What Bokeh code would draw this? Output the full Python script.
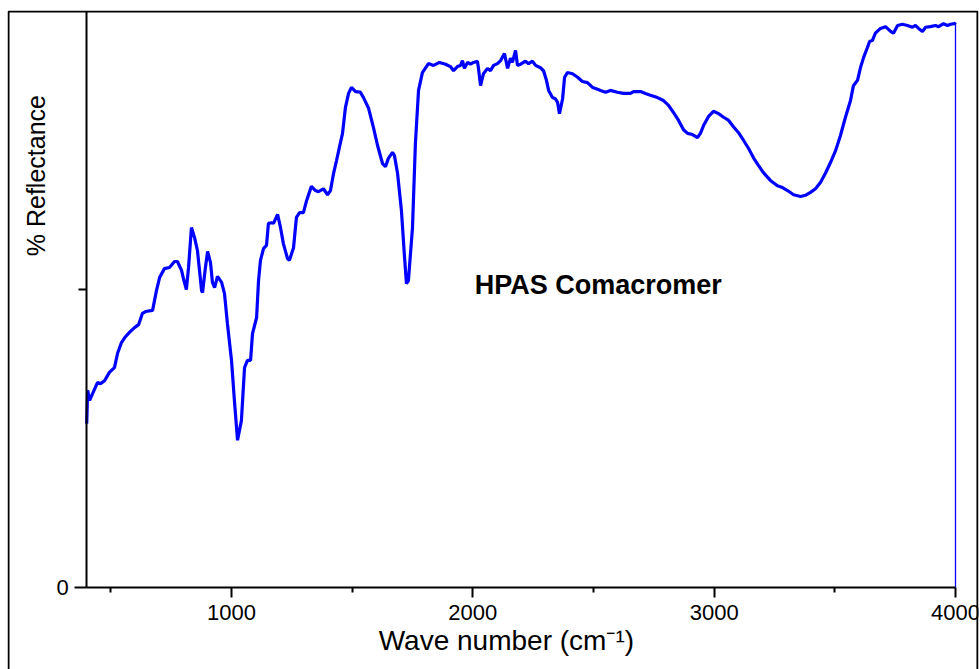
import math
from bokeh.plotting import figure
from bokeh.models import Range1d, FixedTicker, Label, BoxAnnotation, LinearAxis
from bokeh.embed import file_html
from bokeh.resources import INLINE

# ---- data ----
wavenumber = [
    400, 404, 412, 445, 457, 474, 494, 515, 528, 544, 557, 577, 598, 615, 631, 644,
    673, 689, 702, 722, 743, 764, 776, 793, 801, 813, 822, 834, 847, 859, 876, 880,
    892, 901, 913, 921, 930, 942, 959, 971, 983, 1000, 1012, 1025, 1041, 1054, 1066,
    1079, 1087, 1104, 1112, 1120, 1133, 1145, 1153, 1166, 1174, 1191, 1203, 1215,
    1232, 1240, 1257, 1269, 1282, 1298, 1311, 1331, 1348, 1360, 1381, 1398, 1410,
    1423, 1435, 1448, 1460, 1472, 1485, 1497, 1514, 1534, 1547, 1568, 1588, 1605,
    1626, 1638, 1650, 1667, 1675, 1688, 1704, 1717, 1725, 1733, 1750, 1762, 1775,
    1791, 1816, 1837, 1862, 1887, 1907, 1920, 1936, 1949, 1957, 1965, 1978, 1990,
    2003, 2019, 2023, 2032, 2044, 2061, 2073, 2086, 2102, 2115, 2131, 2144, 2156,
    2164, 2177, 2185, 2198, 2218, 2231, 2247, 2260, 2280, 2293, 2305, 2314, 2330,
    2342, 2351, 2359, 2372, 2380, 2392, 2413, 2434, 2454, 2475, 2496, 2517, 2529,
    2550, 2570, 2599, 2624, 2653, 2666, 2695, 2715, 2736, 2765, 2790, 2811, 2831,
    2852, 2873, 2890, 2910, 2931, 2943, 2956, 2976, 2997, 3018, 3039, 3059, 3080,
    3101, 3122, 3142, 3163, 3184, 3204, 3233, 3262, 3283, 3304, 3329, 3358, 3378,
    3399, 3420, 3441, 3461, 3482, 3503, 3523, 3544, 3565, 3577, 3594, 3606, 3619,
    3635, 3644, 3656, 3668, 3689, 3710, 3731, 3743, 3760, 3780, 3801, 3822, 3834,
    3847, 3863, 3876, 3896, 3917, 3930, 3950, 3967, 3979, 3996, 4000,
]
reflectance = [
    27.5, 33.1, 31.4, 34.4, 34.2, 34.7, 36.1, 36.9, 39.3, 41.1, 41.9, 42.8, 43.6, 44.1, 46.0, 46.3,
    46.5, 49.8, 52.0, 53.5, 53.7, 54.7, 54.7, 53.2, 51.8, 50.0, 53.7, 60.4, 58.7, 56.5, 49.8, 49.5,
    53.7, 56.4, 54.5, 51.2, 50.3, 52.2, 51.2, 49.3, 44.3, 38.1, 31.4, 24.7, 28.0, 36.9, 38.1,
    38.1, 42.6, 45.3, 51.5, 54.9, 56.9, 57.4, 61.1, 61.2, 61.1, 62.6, 60.4, 57.7,
    55.2, 54.9, 57.0, 62.1, 62.9, 62.9, 64.9, 67.3, 66.6, 66.4, 66.9, 65.9, 66.6,
    69.5, 71.6, 74.0, 76.2, 80.5, 82.9, 83.9, 83.2, 83.1, 82.2, 80.4, 77.2, 74.2,
    71.1, 70.6, 72.0, 73.0, 72.5, 69.5, 63.3, 55.4, 51.0, 51.5, 60.4, 74.5, 83.4,
    86.4, 87.9, 87.6, 88.1, 87.8, 87.4, 86.7, 87.4, 87.6, 88.4, 87.1, 88.1, 87.8,
    88.1, 88.3, 87.2, 84.2, 86.2, 87.1, 86.7, 87.6, 87.9, 88.4, 89.6, 87.1, 88.8,
    88.1, 90.1, 87.6, 87.8, 88.3, 87.9, 88.3, 87.6, 87.2, 86.7, 85.1, 83.4, 82.2,
    82.0, 81.4, 79.5, 82.0, 85.6, 86.4, 86.2, 85.6, 84.9, 84.7, 83.9, 83.6, 83.4,
    83.1, 83.4, 83.1, 82.9, 82.9, 83.2, 83.2, 82.9, 82.6, 82.2, 81.7, 80.9, 79.7,
    78.4, 76.8, 76.2, 76.0, 75.5, 76.2, 77.5, 79.0, 79.9, 79.5, 78.9, 78.4, 77.3,
    76.3, 75.0, 73.7, 72.1, 70.8, 69.6, 68.3, 67.4, 67.1, 66.6, 65.9, 65.6, 65.8,
    66.3, 66.9, 68.0, 69.5, 71.3, 73.3, 75.8, 78.9, 81.7, 84.2, 85.1, 87.2, 88.9,
    90.6, 91.6, 91.8, 93.0, 93.8, 94.1, 93.3, 93.0, 94.3, 94.5, 94.3, 94.0, 94.3,
    93.8, 93.3, 94.0, 94.1, 94.3, 94.1, 94.6, 94.3, 94.5, 94.6, 94.8,
]
reflectance_end = 0.0  # spectrum drops to zero at its last point

x_bounds = (400, 4000)
y_bounds = (0, 96.64)
x_major_ticks = [1000, 2000, 3000, 4000]
x_minor_ticks = [500, 1500, 2500, 3500]
y_major_ticks = [0]
y_minor_ticks = [50]

x_label = "Wave number (cm\u207b\u00b9)"
y_label = "% Reflectance"
sample_name = "HPAS Comacromer"

FONT = "Liberation Sans"
LINE_COLOR = "#0000ff"

# the frame spans the whole outer box; the axes sit inside it at fixed data positions
p = figure(
    width=980, height=669,
    x_range=Range1d(71.8, 4095.3), y_range=Range1d(-13.76, 96.81),
    x_axis_location=None, y_axis_location=None,
    output_backend="svg", toolbar_location=None,
    min_border_left=7, min_border_right=2, min_border_top=10, min_border_bottom=0,
)
p.outline_line_color = None
p.background_fill_color = "white"
p.border_fill_color = "white"

# x axis
xa = LinearAxis(fixed_location=0, bounds=x_bounds)
xa.ticker = FixedTicker(ticks=x_major_ticks, minor_ticks=x_minor_ticks)
xa.axis_line_width = 2
xa.axis_line_color = "black"
xa.major_tick_line_width = 2
xa.minor_tick_line_width = 2
xa.major_tick_in = 0
xa.major_tick_out = 10
xa.minor_tick_in = 0
xa.minor_tick_out = 5
xa.major_label_text_font = FONT
xa.major_label_text_font_size = "22px"
xa.major_label_text_color = "black"
xa.major_label_standoff = 8
p.add_layout(xa, "below")

# y axis
ya = LinearAxis(fixed_location=400, bounds=y_bounds)
ya.ticker = FixedTicker(ticks=y_major_ticks, minor_ticks=y_minor_ticks)
ya.axis_line_width = 2
ya.axis_line_color = "black"
ya.major_tick_line_width = 2
ya.minor_tick_line_width = 2
ya.major_tick_in = 0
ya.major_tick_out = 12
ya.minor_tick_in = 0
ya.minor_tick_out = 8
ya.major_label_text_font = FONT
ya.major_label_text_font_size = "22px"
ya.major_label_text_color = "black"
ya.major_label_standoff = 6
p.add_layout(ya, "left")
p.grid.visible = False

# spectrum
p.line(wavenumber, reflectance, line_color=LINE_COLOR, line_width=3.2)
p.line([wavenumber[-1], wavenumber[-1]], [reflectance[-1], reflectance_end],
       line_color=LINE_COLOR, line_width=1.3)

# sample label
p.add_layout(Label(x=2520, y=50.8, text=sample_name, text_font=FONT, text_font_size="27px",
                   text_font_style="bold", text_color="black",
                   text_align="center", text_baseline="middle"))

# axis titles
p.add_layout(Label(x=188, y=69.1, text=y_label, angle=math.pi / 2, text_font=FONT,
                   text_font_size="25px", text_color="black",
                   text_align="center", text_baseline="middle"))
p.add_layout(Label(x=2139, y=-8.9, text=x_label, text_font=FONT,
                   text_font_size="28px", text_color="black",
                   text_align="center", text_baseline="middle"))

# outer box (bottom edge lies below the visible area)
p.add_layout(BoxAnnotation(left=76, right=4091, top=96.64, bottom=-20,
                           fill_color=None, fill_alpha=0, line_color="black",
                           line_alpha=1.0, line_width=2, level="overlay"))

open("out.html", "w").write(file_html(p, INLINE))
